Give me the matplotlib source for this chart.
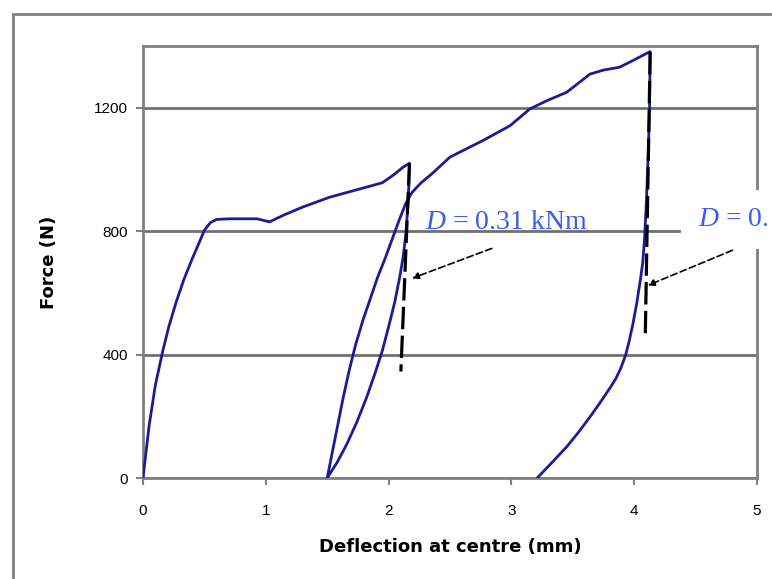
import matplotlib.pyplot as plt
import numpy as np
from matplotlib.patches import Rectangle

plt.rcParams["mathtext.fontset"] = "custom"
plt.rcParams["mathtext.rm"] = "Liberation Serif"
plt.rcParams["mathtext.it"] = "Liberation Serif:italic"

# -------------------- DATA --------------------
# first loading up to ~2.17 mm
load1_x = [0.0, 0.05, 0.10, 0.16, 0.21, 0.27, 0.33, 0.40, 0.46, 0.50, 0.55, 0.60, 0.71, 0.93,
           1.03, 1.14, 1.30, 1.52, 1.75, 1.95, 2.05, 2.12, 2.17]
load1_f = [0, 170, 300, 410, 490, 570, 640, 710, 765, 803, 828, 838, 840, 840,
           830, 851, 878, 910, 935, 957, 985, 1008, 1020]

# first unloading back to 1.5 mm
unload1_x = [2.17, 2.165, 2.155, 2.14, 2.12, 2.09, 2.05, 2.00, 1.95, 1.89, 1.82, 1.74,
             1.66, 1.58, 1.50]
unload1_f = [1020, 950, 870, 790, 720, 650, 570, 490, 414, 340, 260, 180,
             110, 50, 0]

# reloading, then second loading up to ~4.13 mm
load2_x = [1.50, 1.54, 1.58, 1.63, 1.68, 1.73, 1.79, 1.85, 1.91, 1.97, 2.03, 2.09, 2.14,
           2.19, 2.26, 2.35, 2.50, 2.77, 2.99, 3.15, 3.29, 3.45, 3.64, 3.75, 3.88, 3.99,
           4.13]
load2_f = [0, 80, 160, 260, 350, 430, 510, 580, 650, 710, 775, 840, 890,
           925, 955, 985, 1040, 1094, 1142, 1196, 1223, 1250, 1309, 1322, 1331, 1353,
           1382]

# second unloading back to 3.2 mm
unload2_x = [4.13, 4.125, 4.115, 4.10, 4.085, 4.07, 4.05, 4.02, 3.99, 3.96, 3.93, 3.89,
             3.85, 3.80, 3.72, 3.64, 3.55, 3.45, 3.33, 3.21]
unload2_f = [1382, 1200, 1060, 900, 780, 700, 641, 565, 500, 445, 398, 355,
             322, 290, 243, 198, 150, 101, 50, 0]

# stiffness lines (dashed black)
stiff1_x = [2.17, 2.10]
stiff1_f = [1020, 345]
stiff2_x = [4.13, 4.09]
stiff2_f = [1380, 455]

labels = ["$D$ = 0.31 kNm", "$D$ = 0."]
label_pos = [(2.30, 828), (4.52, 838)]
arrow_tail = [(2.84, 744), (4.80, 738)]
arrow_head = [(2.19, 647), (4.11, 624)]

x_ticks = [0, 1, 2, 3, 4, 5]
y_ticks = [0, 400, 800, 1200]

# -------------------- PLOT --------------------
fig = plt.figure(figsize=(7.72, 5.79), dpi=100)
ax = fig.add_axes([143/772, 1 - 478/579, (757 - 143)/772, (478 - 46)/579])

# outer chart frame
fig.patches.append(Rectangle((13/772, -0.1), 1.1, 1 - 14/579 + 0.1, transform=fig.transFigure,
                             facecolor="none", edgecolor="#808080", linewidth=2))

blue = "#1c1c96"
x_all = load1_x + unload1_x[1:] + load2_x[1:] + unload2_x[1:]
f_all = load1_f + unload1_f[1:] + load2_f[1:] + unload2_f[1:]
ax.plot(x_all, f_all, color=blue, linewidth=2.0, zorder=3)

ax.plot(stiff1_x, stiff1_f, color="black", linewidth=2.3, linestyle=(0, (7, 2)), zorder=4)
ax.plot(stiff2_x, stiff2_f, color="black", linewidth=2.3, linestyle=(0, (7, 2)), zorder=4)

for tail, head in zip(arrow_tail, arrow_head):
    ax.annotate("", xy=head, xytext=tail,
                arrowprops=dict(arrowstyle="-|>", color="black", linestyle=(0, (4, 2)),
                                linewidth=1.2, mutation_scale=10, shrinkA=0, shrinkB=0),
                zorder=5)

ax.text(label_pos[0][0], label_pos[0][1], labels[0], color="#3a5cf0", fontsize=20,
        family="Liberation Serif", va="center", ha="left", zorder=6)
ax.text(label_pos[1][0], label_pos[1][1], labels[1], color="#3a5cf0", fontsize=20,
        family="Liberation Serif", va="center", ha="left", zorder=6, clip_on=False,
        bbox=dict(facecolor="white", edgecolor="none", pad=12))

ax.set_xlim(0, 5)
ax.set_ylim(0, 1400)
ax.set_xticks(x_ticks)
ax.set_yticks(y_ticks)
ax.set_xticklabels([str(t) for t in x_ticks], fontsize=11, family="Liberation Sans")
ax.set_yticklabels([str(t) for t in y_ticks], fontsize=11, family="Liberation Sans")
ax.tick_params(direction="out", length=5, width=1.5, color="#808080", pad=6)
ax.tick_params(axis="x", pad=14)
ax.yaxis.grid(True, color="#707070", linewidth=2)
ax.set_axisbelow(True)
for s in ax.spines.values():
    s.set_color("#808080")
    s.set_linewidth(2)

ax.set_xlabel("Deflection at centre (mm)", fontsize=13, fontweight="bold",
              family="DejaVu Sans", labelpad=14)
ax.set_ylabel("Force (N)", fontsize=13, fontweight="bold", family="DejaVu Sans",
              labelpad=26)

fig.savefig("out.png", dpi=100)
